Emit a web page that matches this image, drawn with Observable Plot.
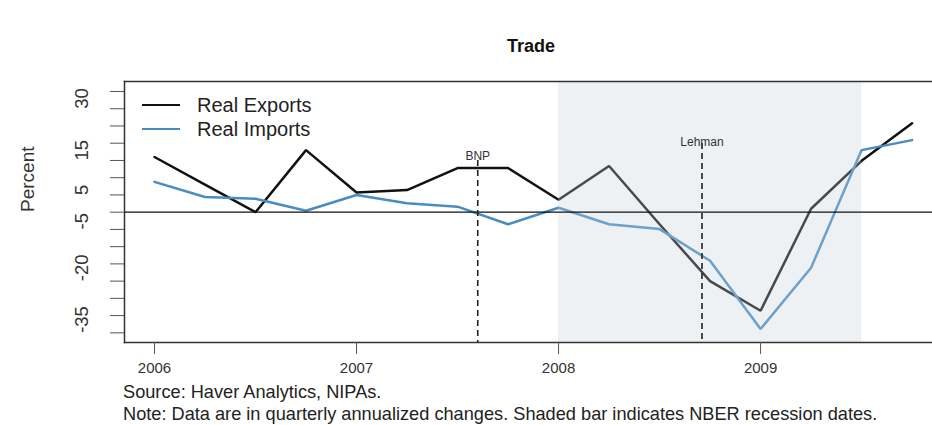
<!DOCTYPE html>
<html>
<head>
<meta charset="utf-8">
<script src="https://cdn.jsdelivr.net/npm/d3@7"></script>
<script src="https://cdn.jsdelivr.net/npm/@observablehq/plot@0.6"></script>
<style>
  html, body { margin: 0; padding: 0; background: #fff; }
  body { width: 932px; height: 425px; overflow: hidden; position: relative; font-family: "Liberation Sans", Arial, sans-serif; color: #222; }
  #chart { position: absolute; left: 0; top: 0; }
  .abs { position: absolute; white-space: nowrap; }
  #title { left: 124px; width: 814px; top: 36px; text-align: center; font-weight: bold; font-size: 18px; line-height: 20px; color: #111; }
  .cap { left: 123px; font-size: 18.2px; line-height: 20px; color: #222; }
  .leg { left: 142px; height: 22px; display: flex; align-items: center; font-size: 20px; color: #222; }
  .leg span.sw { display: inline-block; width: 38px; height: 0; margin-right: 17px; }
</style>
</head>
<body>
<div id="chart"></div>
<div id="title" class="abs">Trade</div>
<div id="legend"></div>
<div class="abs cap" style="top:382px">Source: Haver Analytics, NIPAs.</div>
<div class="abs cap" style="top:404px">Note: Data are in quarterly annualized changes. Shaded bar indicates NBER recession dates.</div>
<script>
// ---- data ----
const quarters = [2006.00, 2006.25, 2006.50, 2006.75, 2007.00, 2007.25, 2007.50, 2007.75,
                  2008.00, 2008.25, 2008.50, 2008.75, 2009.00, 2009.25, 2009.50, 2009.75];
const realExports = [16.0, 8.0, 0.0, 18.0, 5.7, 6.4, 12.8, 12.8, 3.6, 13.4, -3.5, -20.0, -28.6, 1.0, 14.9, 25.8];
const realImports = [8.8, 4.4, 3.9, 0.4, 5.0, 2.6, 1.6, -3.5, 1.3, -3.5, -4.9, -14.1, -33.9, -16.1, 18.0, 20.9];
const seriesNames = ["Real Exports", "Real Imports"];
const seriesColors = ["#111111", "#4a8cc0"];
const recession = [{start: 2008.0, end: 2009.5}];
const events = [{date: 2007.6, label: "BNP"}, {date: 2008.71, label: "Lehman"}];
const xTicks = [2006, 2007, 2008, 2009];
const yTicks = [-35, -30, -25, -20, -15, -10, -5, 0, 5, 10, 15, 20, 25, 30, 35];
const yTickLabels = [30, 15, 5, -5, -20, -35];

const rows = [];
quarters.forEach((q, i) => {
  rows.push({date: q, value: realExports[i], series: seriesNames[0]});
  rows.push({date: q, value: realImports[i], series: seriesNames[1]});
});

// event label layout (pixels from frame top)
const eventLayout = {"BNP": {labelDy: 70, inset: 79}, "Lehman": {labelDy: 56, inset: 62}};

const chart = Plot.plot({
  width: 932,
  height: 377,
  marginTop: 81,
  marginBottom: 35,
  marginLeft: 124,
  marginRight: 0,
  style: {fontFamily: "Liberation Sans, Arial, sans-serif", color: "#222", background: "transparent"},
  x: {domain: [2005.8515, 2009.851], axis: null},
  y: {domain: [-37.8, 37.9], axis: null},
  color: {domain: seriesNames, range: seriesColors},
  marks: [
    Plot.line(rows, {x: "date", y: "value", z: "series", stroke: "series", strokeWidth: 2.5, strokeLinejoin: "miter"}),
    Plot.rect(recession, {x1: "start", x2: "end", fill: "#c5d2dc", fillOpacity: 0.3}),
    Plot.ruleY([0], {stroke: "#111", strokeWidth: 1.3}),
    ...events.map(e => Plot.ruleX([e], {x: "date", stroke: "#222", strokeWidth: 1.6, strokeDasharray: "6,4", insetTop: eventLayout[e.label].inset})),
    ...events.map(e => Plot.text([e], {x: "date", text: "label", frameAnchor: "top", dy: eventLayout[e.label].labelDy, fontSize: 12, fill: "#333"})),
    Plot.frame({anchor: "left", stroke: "#333", strokeWidth: 1.5}),
    Plot.frame({anchor: "top", stroke: "#333", strokeWidth: 1.5}),
    Plot.frame({anchor: "bottom", stroke: "#333", strokeWidth: 1.5}),
    Plot.axisY({ticks: yTicks, tickSize: 14, tickFormat: () => "", stroke: "#555", label: null}),
    Plot.text(yTickLabels, {y: d => d, text: d => String(d), frameAnchor: "left", dx: -42, rotate: -90, fontSize: 18.5, fill: "#333"}),
    Plot.text(["Percent"], {frameAnchor: "left", dx: -97, rotate: -90, fontSize: 19, fill: "#333"}),
    Plot.axisX({ticks: xTicks, tickSize: 12, tickPadding: 8, tickFormat: d => String(d), fontSize: 15, stroke: "#555", fill: "#333", label: null})
  ]
});
document.getElementById("chart").appendChild(chart);

// legend (HTML, inside plot area)
const legend = document.getElementById("legend");
const legendTops = [94, 118];
seriesNames.forEach((name, i) => {
  const row = document.createElement("div");
  row.className = "abs leg";
  row.style.top = legendTops[i] + "px";
  row.innerHTML = `<span class="sw" style="border-top:2.5px solid ${seriesColors[i]}"></span>${name}`;
  legend.appendChild(row);
});
</script>
</body>
</html>
